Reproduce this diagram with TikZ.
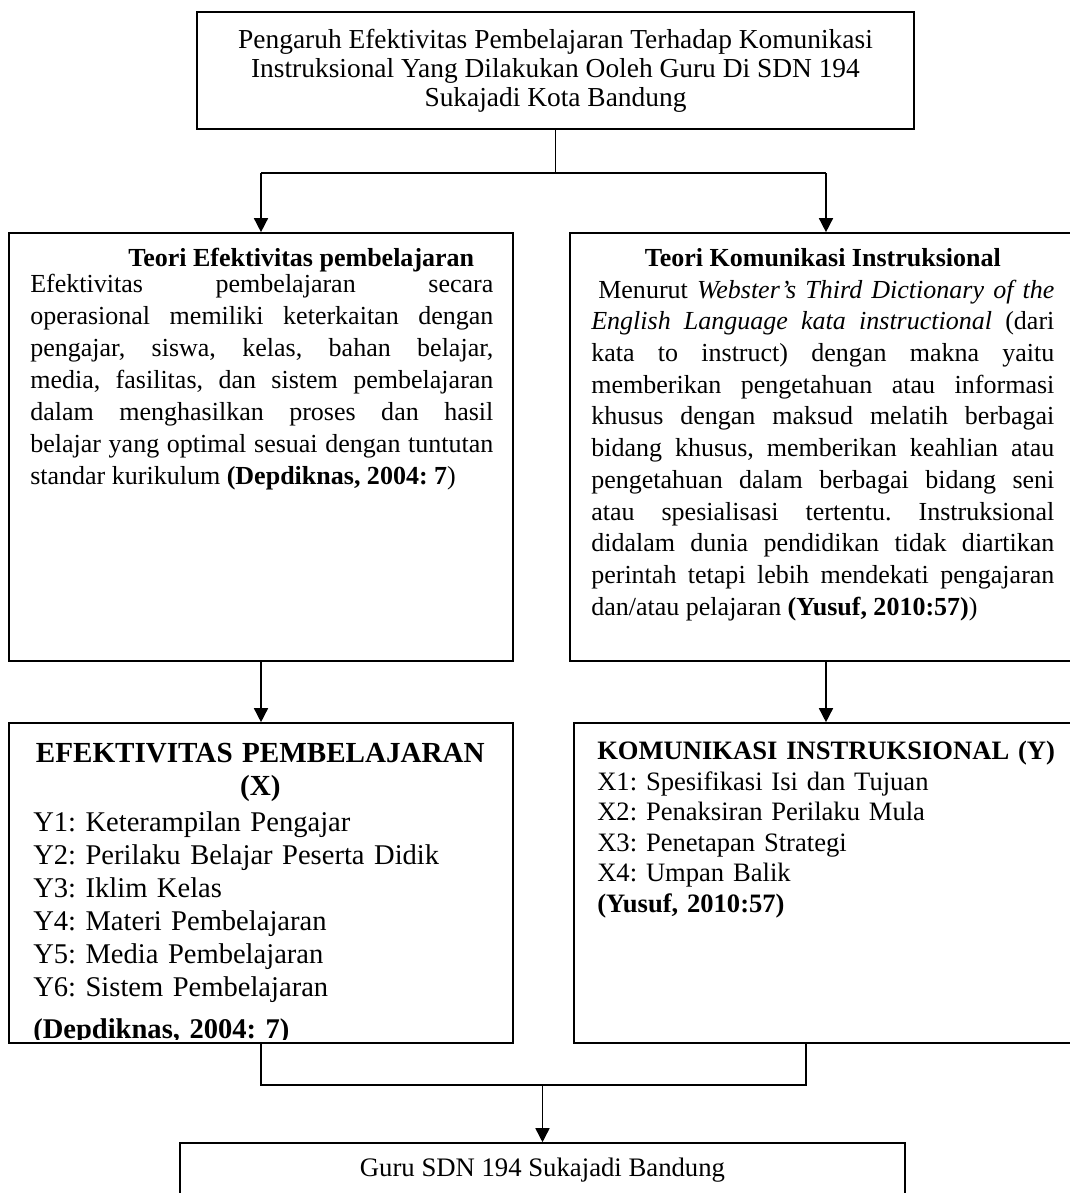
\documentclass[tikz,border=0pt]{standalone}
\usepackage{fontspec}
\setmainfont{Liberation Serif}
\usetikzlibrary{arrows.meta,positioning}
\hyphenpenalty=10000
\exhyphenpenalty=10000
\tolerance=9999
\emergencystretch=3em
\frenchspacing

\tikzset{
  kotak/.style={draw, line width=1.1pt, inner sep=0pt},
  teks/.style={inner sep=0pt, anchor=north west, align=justify, text width=11.575cm,
    font=\fontsize{18.5}{22.55}\selectfont},
  daftar/.style={inner sep=0pt, anchor=north west, align=left},
  panah/.style={line width=1.1pt, -{Triangle[width=10pt,length=10pt]}},
  garis/.style={line width=1.1pt}
}

\begin{document}
\begin{tikzpicture}[x=0.025cm, y=-0.025cm]
\useasboundingbox (0,0) rectangle (1070,1193);
\clip (0,0) rectangle (1070,1193);

% kotak judul
\node[kotak, minimum width=17.925cm, minimum height=2.925cm, align=center,
  font=\fontsize{19.5}{20.6}\selectfont] (judul) at (555.5,70.5)
  {Pengaruh Efektivitas Pembelajaran Terhadap Komunikasi\\
   Instruksional Yang Dilakukan Ooleh Guru Di SDN 194\\
   Sukajadi Kota Bandung};

% kotak teori
\node[kotak, minimum width=12.6cm, minimum height=10.7cm] (teoriX) at (261,447) {};
\node[kotak, minimum width=12.8cm, minimum height=10.7cm] (teoriY) at (826,447) {};

% kotak variabel
\node[kotak, minimum width=12.6cm, minimum height=8cm] (varX) at (261,883) {};
\node[kotak, minimum width=12.6cm, minimum height=8cm] (varY) at (826,883) {};

% kotak guru
\node[kotak, minimum width=18.125cm, minimum height=1.35cm,
  font=\fontsize{19}{22}\selectfont] (guru) at (542.5,1170) {Guru SDN 194 Sukajadi Bandung};

% isi teori
\node[teks, font=\fontsize{18.5}{22.8}\selectfont] (isiTeoriX) at (30,248)
  {\hspace*{2.45cm}\textbf{Teori Efektivitas pembelajaran}\\[-4.3pt]
   Efektivitas pembelajaran secara\linebreak
   operasional memiliki keterkaitan dengan\linebreak
   pengajar, siswa, kelas, bahan belajar,\linebreak
   media, fasilitas, dan sistem pembelajaran\linebreak
   dalam menghasilkan proses dan hasil\linebreak
   belajar yang optimal sesuai dengan tuntutan\linebreak
   standar kurikulum \textbf{(Depdiknas, 2004: 7})};
\node[teks] (isiTeoriY) at (591,248)
  {\hspace*{\fill}\textbf{Teori Komunikasi Instruksional}\hspace*{\fill}\\
   \hspace*{5pt}Menurut \textit{Webster's Third Dictionary of the}\linebreak
   \textit{English Language kata instructional} (dari\linebreak
   kata to instruct) dengan makna yaitu\linebreak
   memberikan pengetahuan atau informasi\linebreak
   khusus dengan maksud melatih berbagai\linebreak
   bidang khusus, memberikan keahlian atau\linebreak
   pengetahuan dalam berbagai bidang seni\linebreak
   atau spesialisasi tertentu. Instruksional\linebreak
   didalam dunia pendidikan tidak diartikan\linebreak
   perintah tetapi lebih mendekati pengajaran\linebreak
   dan/atau pelajaran \textbf{(Yusuf, 2010:57)})};

% isi variabel
\begin{scope}
\clip (9,723) rectangle (513,1039);
\node[daftar, text width=11.35cm, font=\fontsize{20.3}{23.5}\selectfont] (isiVarX) at (33,743)
  {\centering{\fontsize{20.7}{23.5}\selectfont\textbf{EFEKTIVITAS PEMBELAJARAN}\\\textbf{(X)}}\\[2pt]
   \raggedright
   Y1: Keterampilan Pengajar\\
   Y2: Perilaku Belajar Peserta Didik\\
   Y3: Iklim Kelas\\
   Y4: Materi Pembelajaran\\
   Y5: Media Pembelajaran\\
   Y6: Sistem Pembelajaran\\[6pt]
   \textbf{(Depdiknas, 2004: 7)}};
\end{scope}
\node[daftar, text width=12cm, font=\fontsize{18.9}{21.7}\selectfont] (isiVarY) at (597,741)
  {\textbf{KOMUNIKASI INSTRUKSIONAL (Y)}\\
   X1: Spesifikasi Isi dan Tujuan\\
   X2: Penaksiran Perilaku Mula\\
   X3: Penetapan Strategi\\
   X4: Umpan Balik\\
   \textbf{(Yusuf, 2010:57)}};

% panah
\coordinate (cabang) at (555.5,173);
\draw[garis] (judul.south) -- (cabang);
\draw[garis] (teoriX.north |- cabang) -- (teoriY.north |- cabang);
\draw[panah] (teoriX.north |- cabang) -- (teoriX.north);
\draw[panah] (teoriY.north |- cabang) -- (teoriY.north);
\draw[panah] (teoriX.south) -- (varX.north);
\draw[panah] (teoriY.south) -- (varY.north);
\coordinate (gabung) at (806,1085);
\draw[garis] (varX.south) |- (gabung) -- (gabung |- varY.south);
\draw[panah] (guru.north |- gabung) -- (guru.north);

\end{tikzpicture}
\end{document}
